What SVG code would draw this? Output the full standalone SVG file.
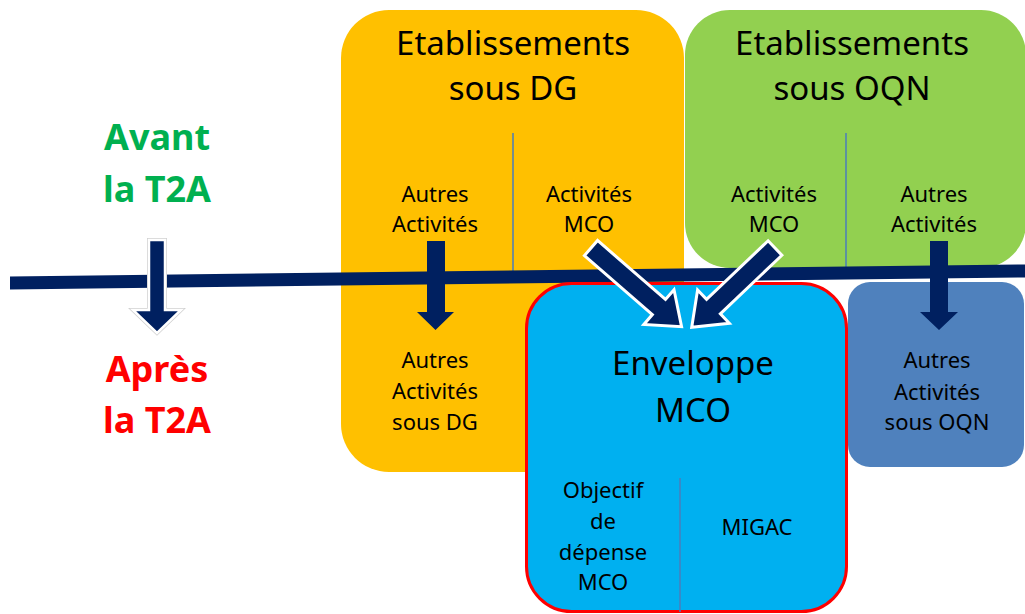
<svg xmlns="http://www.w3.org/2000/svg" width="1025" height="614" viewBox="0 0 1025 614">
<defs>
<style>
.t{font-family:"Noto Sans","Open Sans","Liberation Sans",sans-serif;fill:#000;text-anchor:middle}
.big{font-size:33px}
.sm{font-size:22px}
.lbl{font-family:"Noto Sans","Open Sans","Liberation Sans",sans-serif;font-weight:bold;font-size:36px;text-anchor:middle}
.div{stroke:#4a7ebb;stroke-width:1.5}
.navy{fill:#002060}
.outl{fill:#002060;stroke:#ffffff;stroke-width:3;stroke-linejoin:miter}
</style>
</defs>
<rect width="1025" height="614" fill="#ffffff"/>
<g id="avant">
<text class="lbl" x="157" y="150" fill="#00b050">Avant</text>
<text class="lbl" x="157" y="202" fill="#00b050">la T2A</text>
</g>
<g id="apres">
<text class="lbl" x="157" y="382" fill="#ff0000">Après</text>
<text class="lbl" x="157" y="433" fill="#ff0000">la T2A</text>
</g>
<g id="etab-dg">
<rect x="341" y="10" width="343" height="462" rx="48" fill="#ffc000"/>
<line class="div" x1="513" y1="133" x2="513" y2="272"/>
<text class="t big" x="513" y="55">Etablissements</text>
<text class="t big" x="513" y="100">sous DG</text>
<text class="t sm" x="435" y="202">Autres</text>
<text class="t sm" x="435" y="232">Activités</text>
<text class="t sm" x="589" y="202">Activités</text>
<text class="t sm" x="589" y="232">MCO</text>
<text class="t sm" x="435" y="368">Autres</text>
<text class="t sm" x="435" y="399">Activités</text>
<text class="t sm" x="435" y="430">sous DG</text>
</g>
<g id="etab-oqn">
<rect x="685" y="10" width="341" height="258" rx="45" fill="#92d050"/>
<line class="div" x1="846" y1="133" x2="846" y2="270"/>
<text class="t big" x="852" y="55">Etablissements</text>
<text class="t big" x="852" y="100">sous OQN</text>
<text class="t sm" x="774" y="202">Activités</text>
<text class="t sm" x="774" y="232">MCO</text>
<text class="t sm" x="934" y="202">Autres</text>
<text class="t sm" x="934" y="232">Activités</text>
</g>
<g id="connectors">
<polygon class="navy" points="10,276.5 1025,264.5 1025,277.5 10,289.5"/>
</g>
<g id="enveloppe">
<rect x="526.5" y="283.5" width="320" height="328" rx="45" fill="#00b0f0" stroke="#ff0000" stroke-width="3"/>
<line class="div" x1="680" y1="478" x2="680" y2="612"/>
<text class="t big" x="693" y="375">Enveloppe</text>
<text class="t big" x="693" y="422">MCO</text>
<text class="t sm" x="603" y="498">Objectif</text>
<text class="t sm" x="603" y="529">de</text>
<text class="t sm" x="603" y="560">dépense</text>
<text class="t sm" x="603" y="590">MCO</text>
<text class="t sm" x="757" y="535">MIGAC</text>
</g>
<g id="autres-oqn">
<rect x="848" y="282" width="176" height="185" rx="22" fill="#4f81bd"/>
<text class="t sm" x="937" y="368">Autres</text>
<text class="t sm" x="937" y="400">Activités</text>
<text class="t sm" x="937" y="430">sous OQN</text>
</g>
<g id="arrows">
<polygon points="149,240 165,240 165,310 181,310 157,333 133,310 149,310" fill="#002060" stroke="#d0d0d0" stroke-width="4" stroke-linejoin="miter"/>
<polygon points="149,240 165,240 165,310 181,310 157,333 133,310 149,310" fill="#002060" stroke="#ffffff" stroke-width="2.5" stroke-linejoin="miter"/>
<polygon class="navy" points="427,241 445,241 445,312 454,312 435.5,330 417,312 427,312"/>
<polygon class="navy" points="930,241 948,241 948,312 958,312 939,330 920,312 930,312"/>
<polygon class="outl" transform="translate(591,248) rotate(41)" points="0,-10 90,-10 90,-23 120,0 90,23 90,10 0,10"/>
<polygon class="outl" transform="translate(775,248) rotate(136.4)" points="0,-10 85,-10 85,-23 115,0 85,23 85,10 0,10"/>
</g>
</svg>
